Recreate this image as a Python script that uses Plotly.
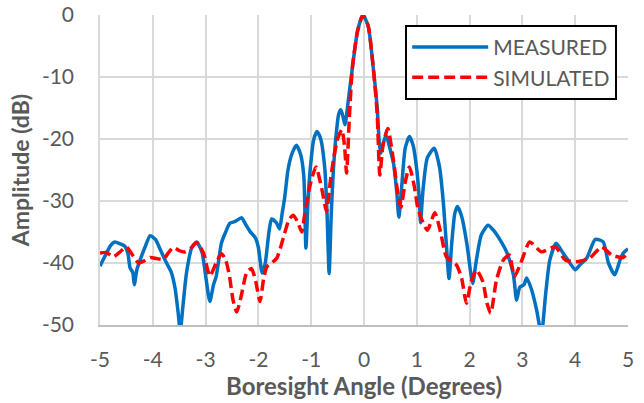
import plotly.graph_objects as go

# ---- data ----
meas_x = [-5.00, -4.90, -4.80, -4.72, -4.62, -4.53, -4.47, -4.43, -4.38, -4.35, -4.30, -4.24, -4.15, -4.05,
          -3.95, -3.85, -3.74, -3.65, -3.58, -3.52, -3.48, -3.43, -3.36, -3.26, -3.17, -3.07, -3.00, -2.92,
          -2.85, -2.80, -2.70, -2.62, -2.54, -2.44, -2.32, -2.24, -2.16, -2.06, -2.00, -1.93, -1.87, -1.80,
          -1.75, -1.66, -1.60, -1.55, -1.50, -1.44, -1.37, -1.28, -1.20, -1.14, -1.10, -1.06, -1.02, -0.95,
          -0.89, -0.82, -0.74, -0.70, -0.66, -0.62, -0.58, -0.53, -0.48, -0.44, -0.40, -0.36, -0.30, -0.22,
          -0.12, -0.02, 0.08, 0.18, 0.25, 0.29, 0.32, 0.37, 0.42, 0.49, 0.56, 0.62, 0.66, 0.72, 0.78, 0.86,
          0.93, 1.00, 1.05, 1.07, 1.12, 1.20, 1.33, 1.43, 1.50, 1.56, 1.61, 1.66, 1.72, 1.77, 1.85, 1.95,
          2.02, 2.06, 2.12, 2.22, 2.35, 2.45, 2.58, 2.70, 2.83, 2.89, 2.95, 3.03, 3.08, 3.17, 3.27, 3.36,
          3.44, 3.52, 3.64, 3.77, 3.90, 4.00, 4.09, 4.22, 4.38, 4.53, 4.63, 4.75, 4.85, 4.91, 5.00]
meas_y = [-40.5, -38.8, -37.2, -36.6, -36.9, -37.3, -38.5, -40.8, -41.5, -43.5, -41.0, -39.5, -37.5, -35.6,
          -36.2, -38.0, -40.0, -41.5, -44.0, -48.0, -51.0, -47.0, -41.5, -37.5, -36.6, -38.2, -42.0, -46.2,
          -43.5, -42.2, -36.8, -35.0, -33.6, -33.3, -32.7, -33.8, -34.9, -35.9, -37.5, -41.6, -40.0, -35.0,
          -32.9, -33.5, -34.5, -32.0, -29.3, -25.0, -22.5, -21.0, -22.5, -26.0, -37.6, -30.0, -25.0, -20.0,
          -18.8, -20.0, -25.0, -32.0, -41.7, -32.0, -25.0, -19.5, -16.0, -15.3, -16.3, -17.7, -14.0, -8.5,
          -2.5, 0.0, -1.8, -8.9, -15.0, -20.7, -22.3, -20.5, -19.4, -21.5, -24.0, -28.5, -32.6, -27.0, -21.5, -19.6,
          -21.0, -25.0, -30.0, -33.5, -28.0, -23.0, -21.5, -24.5, -30.0, -37.0, -42.5, -37.0, -32.0, -30.9, -32.5, -37.0,
          -41.5, -43.3, -40.0, -35.5, -33.9, -34.7, -36.3, -38.2, -41.9, -46.0, -43.9, -43.5, -42.4, -44.2, -47.6, -51.5,
          -45.0, -39.5, -36.8, -38.4, -40.0, -41.1, -40.3, -39.2, -36.2, -36.6, -40.0, -41.9, -39.5, -38.4, -37.7]

sim_x = [-5.00, -4.88, -4.75, -4.62, -4.50, -4.40, -4.27, -4.15, -4.05, -3.92, -3.80, -3.70, -3.61, -3.50,
         -3.39, -3.28, -3.17, -3.04, -2.92, -2.80, -2.70, -2.62, -2.55, -2.48, -2.41, -2.33, -2.22, -2.13,
         -2.05, -1.97, -1.90, -1.84, -1.75, -1.65, -1.53, -1.42, -1.34, -1.25, -1.18, -1.12, -1.02, -0.91,
         -0.80, -0.71, -0.64, -0.58, -0.50, -0.42, -0.37, -0.33, -0.28, -0.22, -0.12, -0.02, 0.08, 0.18,
         0.25, 0.30, 0.36, 0.45, 0.55, 0.65, 0.70, 0.78, 0.86, 0.95, 1.03, 1.20, 1.34, 1.45, 1.56, 1.75,
         1.85, 1.94, 2.03, 2.13, 2.25, 2.33, 2.40, 2.51, 2.64, 2.75, 2.85, 2.97, 3.14, 3.36, 3.62, 3.81,
         4.03, 4.28, 4.50, 4.69, 4.91, 5.00]
sim_y = [-38.4, -38.3, -39.0, -38.2, -37.4, -38.5, -40.0, -39.6, -39.1, -39.3, -39.4, -38.3, -37.5, -38.0,
         -38.2, -37.6, -36.7, -38.4, -42.1, -40.0, -38.5, -39.5, -42.0, -46.0, -47.9, -45.5, -41.5, -40.9,
         -43.0, -46.2, -42.5, -40.6, -40.0, -39.2, -36.0, -33.0, -32.3, -33.5, -35.0, -32.0, -27.4, -24.5,
         -28.0, -31.7, -27.0, -23.4, -20.0, -18.5, -21.0, -25.5, -17.0, -8.5, -2.5, 0.0, -1.8, -8.9,
         -16.0, -25.8, -21.0, -18.3, -23.0, -29.3, -31.0, -27.0, -24.5, -27.5, -31.5, -34.7, -31.9, -35.0, -39.0, -40.3,
         -42.5, -46.5, -43.0, -41.1, -43.0, -46.5, -48.1, -42.7, -39.5, -38.7, -42.2, -40.0, -36.6, -38.2, -37.4, -39.5,
         -39.8, -39.2, -37.4, -38.7, -39.1, -38.2]

x_ticks = [-5, -4, -3, -2, -1, 0, 1, 2, 3, 4, 5]
x_tick_text = ["-5", "-4", "-3", "-2", "-1", "0", "1", "2", "3", "4", "5"]
y_ticks = [0, -10, -20, -30, -40, -50]
y_tick_text = ["0", "-10", "-20", "-30", "-40", "-50"]

FONT = "Lato"
GRAY = "#595959"
GRID = "#D9D9D9"

fig = go.Figure()
fig.add_trace(go.Scatter(x=meas_x, y=meas_y, mode="lines", name="MEASURED",
                         line=dict(color="#0070C0", width=3.5, shape="spline", smoothing=0.6)))
fig.add_trace(go.Scatter(x=sim_x, y=sim_y, mode="lines", name="SIMULATED",
                         line=dict(color="#FF0000", width=3.5, dash="11px,5px", shape="spline", smoothing=0.6)))

fig.update_layout(
    width=644, height=403,
    margin=dict(l=100, r=16, t=15, b=78, autoexpand=False),
    paper_bgcolor="white", plot_bgcolor="white",
    font=dict(family=FONT, color=GRAY, size=21),
    showlegend=True,
    legend=dict(x=0.578, y=0.968, xanchor="left", yanchor="top",
                bgcolor="white", bordercolor="black", borderwidth=2,
                font=dict(family=FONT, size=21, color=GRAY),
                itemwidth=76, tracegroupgap=0),
    xaxis=dict(range=[-5, 5], tickvals=x_ticks, ticktext=x_tick_text,
               showgrid=True, gridcolor=GRID, gridwidth=1.5,
               showline=True, linecolor="#BFBFBF", linewidth=1.5,
               zeroline=False, ticks="", ticklabelstandoff=15, automargin=False,
               tickfont=dict(size=21, color=GRAY),
               title=dict(text="<b>Boresight Angle (Degrees)</b>", font=dict(size=24, color=GRAY), standoff=8)),
    yaxis=dict(range=[-50, 0], tickvals=y_ticks, ticktext=y_tick_text,
               showgrid=True, gridcolor=GRID, gridwidth=1.5,
               showline=True, linecolor=GRID, linewidth=1.5,
               zeroline=False, ticks="", ticklabelstandoff=20, automargin=False,
               tickfont=dict(size=21, color=GRAY),
               title=dict(text="<b>Amplitude (dB)</b>", font=dict(size=23, color=GRAY), standoff=6)),
)

fig.write_html("out.html")
